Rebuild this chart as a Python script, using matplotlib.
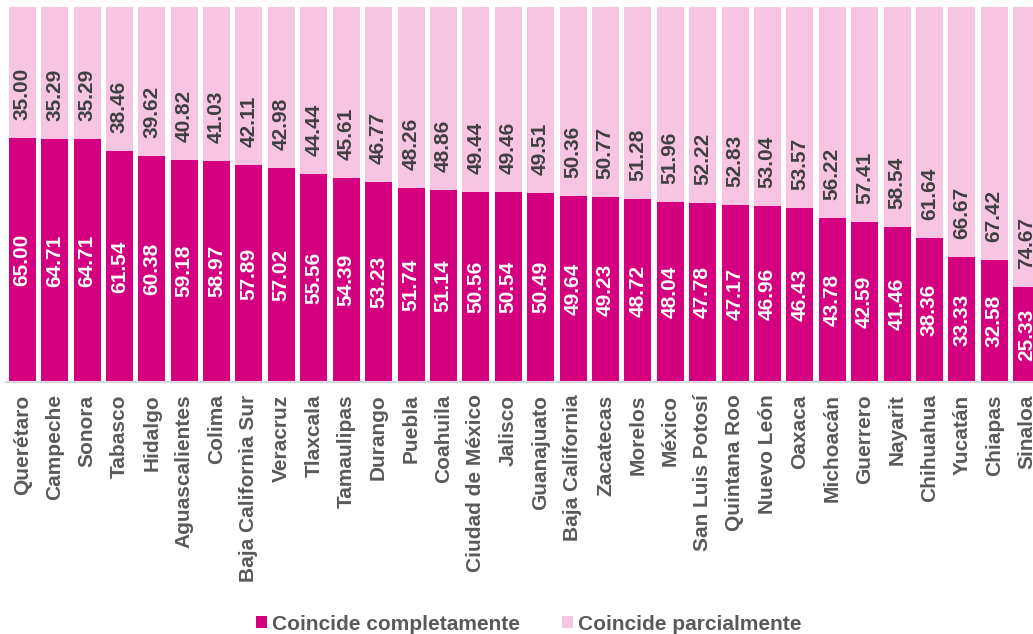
import matplotlib
matplotlib.use("Agg")
import matplotlib.pyplot as plt
from matplotlib.patches import Patch

estados = ["Querétaro", "Campeche", "Sonora", "Tabasco", "Hidalgo", "Aguascalientes",
           "Colima", "Baja California Sur", "Veracruz", "Tlaxcala", "Tamaulipas",
           "Durango", "Puebla", "Coahuila", "Ciudad de México", "Jalisco", "Guanajuato",
           "Baja California", "Zacatecas", "Morelos", "México", "San Luis Potosí",
           "Quintana Roo", "Nuevo León", "Oaxaca", "Michoacán", "Guerrero", "Nayarit",
           "Chihuahua", "Yucatán", "Chiapas", "Sinaloa"]
completamente = [65.00, 64.71, 64.71, 61.54, 60.38, 59.18, 58.97, 57.89, 57.02, 55.56,
                 54.39, 53.23, 51.74, 51.14, 50.56, 50.54, 50.49, 49.64, 49.23, 48.72,
                 48.04, 47.78, 47.17, 46.96, 46.43, 43.78, 42.59, 41.46, 38.36, 33.33,
                 32.58, 25.33]
parcialmente = [35.00, 35.29, 35.29, 38.46, 39.62, 40.82, 41.03, 42.11, 42.98, 44.44,
                45.61, 46.77, 48.26, 48.86, 49.44, 49.46, 49.51, 50.36, 50.77, 51.28,
                51.96, 52.22, 52.83, 53.04, 53.57, 56.22, 57.41, 58.54, 61.64, 66.67,
                67.42, 74.67]
series = ["Coincide completamente", "Coincide parcialmente"]

C_DARK = "#D5007F"
C_LIGHT = "#F7C4E1"
TXT = "#404040"
LBL = "#595959"
FS = 15

plt.rcParams["font.family"] = ["Liberation Sans", "DejaVu Sans"]

W, H = 1033, 634
fig = plt.figure(figsize=(W / 100, H / 100), dpi=100)
# plot area in pixels: left 6, baseline at y=382, top at y=7
left_px, pitch = 6, 32.4
ax = fig.add_axes([left_px / W, (H - 382) / H, 32 * pitch / W, 375 / H])

x = list(range(len(estados)))
bw = 27 / pitch
ax.bar(x, completamente, width=bw, color=C_DARK, zorder=2)
ax.bar(x, parcialmente, width=bw, bottom=completamente, color=C_LIGHT, zorder=2)

for i, (c, p) in enumerate(zip(completamente, parcialmente)):
    ax.text(i, c / 2, f"{c:.2f}", rotation=90, ha="center", va="center",
            color="white", fontsize=FS, fontweight="bold", zorder=3)
    ax.text(i, c + 4.8, f"{p:.2f}", rotation=90, ha="center", va="bottom",
            color=TXT, fontsize=FS, fontweight="bold", zorder=3)

ax.set_xlim(-0.5, 31.5)
ax.set_ylim(0, 100)
ax.set_xticks(x)
ax.set_xticklabels(estados, rotation=90, fontsize=FS, fontweight="bold", color=LBL)
ax.tick_params(axis="x", length=0, pad=9)
ax.set_yticks([])
for s in ["top", "right", "left"]:
    ax.spines[s].set_visible(False)
ax.spines["bottom"].set_color("#D9D9D9")
ax.spines["bottom"].set_linewidth(1.5)

handles = [Patch(facecolor=C_DARK, label=series[0]),
           Patch(facecolor=C_LIGHT, label=series[1])]
leg = fig.legend(handles=handles, loc="center", bbox_to_anchor=(529 / W, 1 - 624 / H),
                 ncol=2, frameon=False, handlelength=0.52, handleheight=0.52,
                 handletextpad=0.25, columnspacing=2.0, borderpad=0,
                 prop={"size": FS, "weight": "bold"})
for t in leg.get_texts():
    t.set_color(LBL)

fig.savefig("out.png", dpi=100)
